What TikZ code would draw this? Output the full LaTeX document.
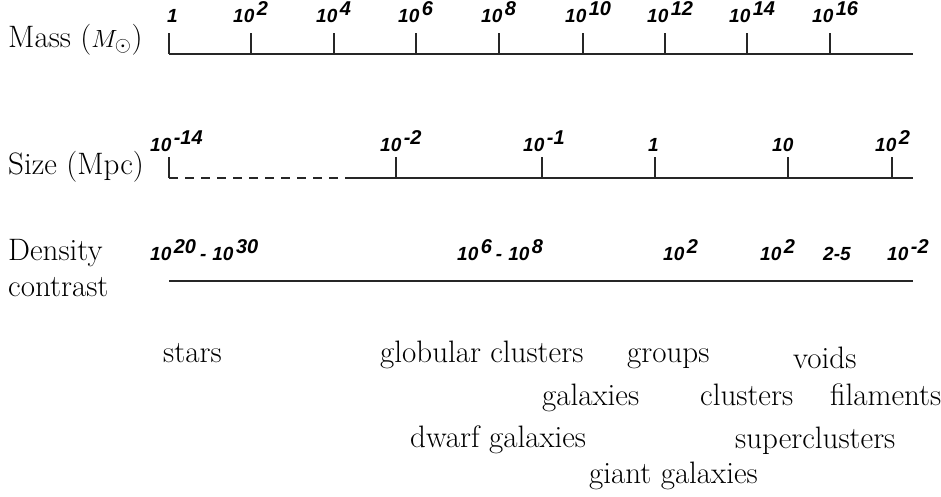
\documentclass[tikz,border=0pt]{standalone}
\usepackage{fontspec}
\newfontfamily\hv{Liberation Sans}
\newcommand{\spw}[1]{\hspace{2.5pt}\raisebox{7pt}{\fontsize{20}{22}\selectfont #1}}
\tikzset{
  axisline/.style={line width=1.2pt, black!85},
  ticklin/.style={line width=1.2pt, black!85},
  dashaxis/.style={line width=1.2pt, black!85, dash pattern=on 9pt off 7pt},
  numlab/.style={inner sep=0pt, anchor=base west, font=\fontsize{19}{21}\hv\bfseries\itshape},
  rowname/.style={inner sep=0pt, anchor=base west, font=\fontsize{31}{37}\selectfont, align=left},
  objname/.style={inner sep=0pt, anchor=base west, font=\fontsize{31}{37}\selectfont},
}
\begin{document}
\begin{tikzpicture}[x=1pt,y=-1pt]
\useasboundingbox (0,0) rectangle (941,497);

% ---------- Mass axis ----------
\node[rowname] (massname) at (8,48) {Mass ($M_\odot$)};
\coordinate (m0) at (169,54);
\coordinate (mend) at (913,54);
\draw[axisline] (m0) -- (mend);
\foreach \x/\n in {169/a,251/b,334/c,416/d,499/e,583/f,665/g,747/h,830/i}{
  \coordinate (mb\n) at (\x,54);
  \coordinate (mt\n) at (\x,33);
  \draw[ticklin] (mb\n) -- (mt\n);
}
\node[numlab] (ml1) at (167,23) {1};
\node[numlab] (ml2) at (233,23) {10\spw{2}};
\node[numlab] (ml4) at (316,23) {10\spw{4}};
\node[numlab] (ml6) at (398,23) {10\spw{6}};
\node[numlab] (ml8) at (481,23) {10\spw{8}};
\node[numlab] (ml10) at (565,23) {10\spw{10}};
\node[numlab] (ml12) at (647,23) {10\spw{12}};
\node[numlab] (ml14) at (729,23) {10\spw{14}};
\node[numlab] (ml16) at (812,23) {10\spw{16}};

% ---------- Size axis ----------
\node[rowname] (sizename) at (8,175) {Size (Mpc)};
\coordinate (s0) at (169,178);
\coordinate (sdash) at (349,178);
\coordinate (send) at (913,178);
\draw[dashaxis] (s0) -- (sdash);
\draw[axisline] (sdash) -- (send);
\foreach \x/\n in {169/a,396/b,542/c,655/d,788/e,892/f}{
  \coordinate (sb\n) at (\x,178);
  \coordinate (st\n) at (\x,157);
  \draw[ticklin] (sb\n) -- (st\n);
}
\draw[ticklin] (sba) -- ++(8,0);
\node[numlab] (sl14) at (150,152) {10\spw{-14}};
\node[numlab] (sl2) at (380,152) {10\spw{-2}};
\node[numlab] (sl1) at (523,152) {10\spw{-1}};
\node[numlab] (slone) at (648,152) {1};
\node[numlab] (slten) at (772,152) {10};
\node[numlab] (slh) at (875,152) {10\spw{2}};

% ---------- Density axis ----------
\node[rowname] (densname) at (8,260) {Density};
\node[rowname] (contname) at (8,296) {contrast};
\coordinate (d0) at (169,281);
\coordinate (dend) at (913,281);
\draw[axisline] (d0) -- (dend);
\node[numlab] (dl1) at (150,260) {10\spw{20}\hspace{4pt}-\hspace{6pt}10\spw{30}};
\node[numlab] (dl2) at (457,260) {10\spw{6}\hspace{4pt}-\hspace{6pt}10\spw{8}};
\node[numlab] (dl3) at (663,260) {10\spw{2}};
\node[numlab] (dl4) at (760,260) {10\spw{2}};
\node[numlab] (dl5) at (823,260) {2-5};
\node[numlab] (dl6) at (887,260) {10\spw{-2}};

% ---------- Objects ----------
\node[objname] (stars) at (163,362) {stars};
\node[objname] (glob) at (380,362) {globular clusters};
\node[objname] (groups) at (627,362) {groups};
\node[objname] (voids) at (793,368) {voids};
\node[objname] (gal) at (542,405) {galaxies};
\node[objname] (clus) at (700,405) {clusters};
\node[objname] (fil) at (830,405) {filaments};
\node[objname] (dwarf) at (410,447) {dwarf galaxies};
\node[objname] (super) at (735,448) {superclusters};
\node[objname] (giant) at (589,483) {giant galaxies};
\end{tikzpicture}
\end{document}
